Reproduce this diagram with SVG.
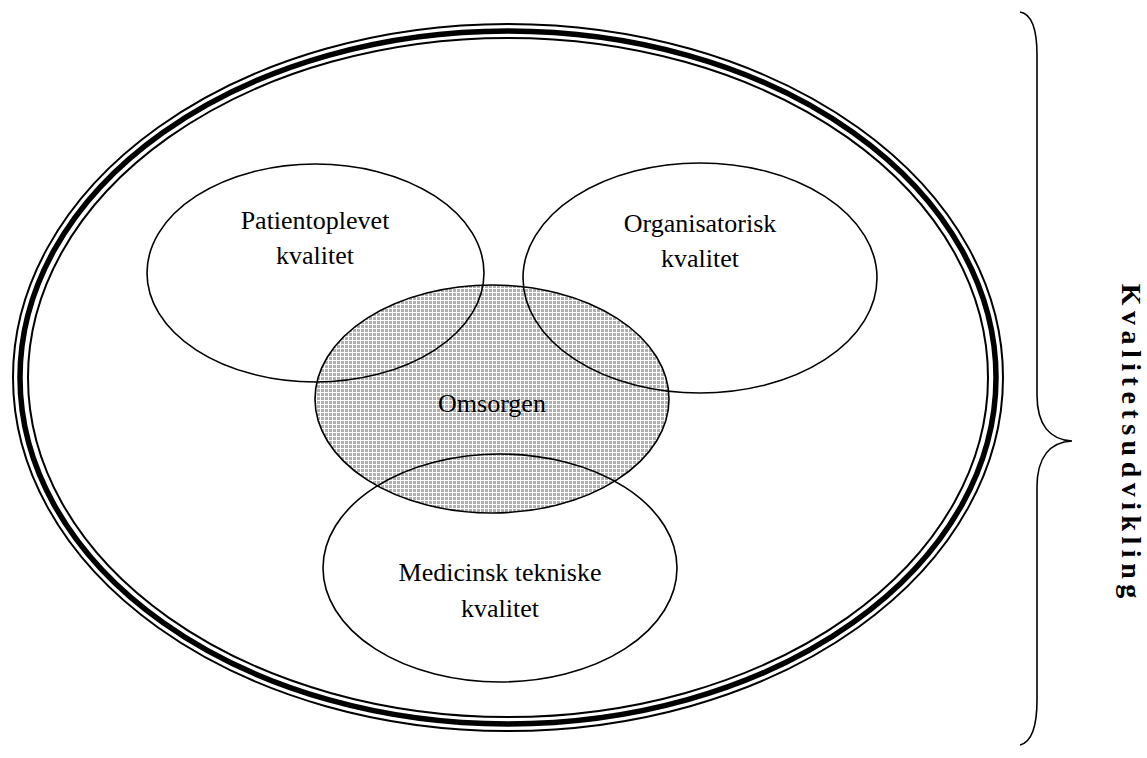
<svg xmlns="http://www.w3.org/2000/svg" width="1147" height="758" viewBox="0 0 1147 758">
<style>
.lbl{font-family:"Liberation Serif","Times New Roman",serif;font-size:26px;fill:#000;text-anchor:middle}
.ring{fill:none;stroke:#000;stroke-width:1.6}
.title{font-family:"Liberation Serif","Times New Roman",serif;font-size:28px;font-weight:bold;fill:#000;text-anchor:middle;letter-spacing:5.5px}
</style>
<defs>
<pattern id="hatch" width="4" height="4" patternUnits="userSpaceOnUse">
<rect width="4" height="4" fill="#b0b0b0"/>
<rect x="0" y="0" width="4" height="1" fill="#fff"/>
<rect x="0" y="0" width="1" height="4" fill="#fff"/>
</pattern>
</defs>
<rect width="1147" height="758" fill="#fff"/>
<g id="outer">
<ellipse cx="508" cy="377.5" rx="495" ry="353.5" fill="none" stroke="#000" stroke-width="2"/>
<ellipse cx="508" cy="377.5" rx="488" ry="346.5" fill="none" stroke="#000" stroke-width="5.5"/>
<ellipse cx="508" cy="377.5" rx="480" ry="339.5" fill="none" stroke="#000" stroke-width="2"/>
</g>
<g id="omsorgen">
<ellipse cx="492" cy="399" rx="177" ry="114" fill="url(#hatch)" stroke="#000" stroke-width="1.6"/>
</g>
<g id="patient">
<ellipse class="ring" cx="315.5" cy="273" rx="168.5" ry="109"/>
<text class="lbl" x="315" y="229">Patientoplevet</text>
<text class="lbl" x="315" y="264">kvalitet</text>
</g>
<g id="organisatorisk">
<ellipse class="ring" cx="700" cy="278" rx="177" ry="115"/>
<text class="lbl" x="700" y="232">Organisatorisk</text>
<text class="lbl" x="700" y="267">kvalitet</text>
</g>
<g id="medicinsk">
<ellipse class="ring" cx="500" cy="568" rx="177" ry="114"/>
<text class="lbl" x="500" y="581">Medicinsk tekniske</text>
<text class="lbl" x="500" y="617">kvalitet</text>
</g>
<g id="omsorgen-label">
<text class="lbl" x="492" y="412">Omsorgen</text>
</g>
<g id="connectors">
<path d="M1020,12 C1032,14 1037,30 1037,55 L1037,395 C1037,425 1050,440 1072,441 C1050,442 1037,457 1037,487 L1037,700 C1037,725 1032,742 1020,745" fill="none" stroke="#000" stroke-width="1.6"/>
</g>
<g id="kvalitetsudvikling">
<text class="title" transform="translate(1122,441) rotate(90)" x="2.75" y="0">Kvalitetsudvikling</text>
</g>
</svg>
